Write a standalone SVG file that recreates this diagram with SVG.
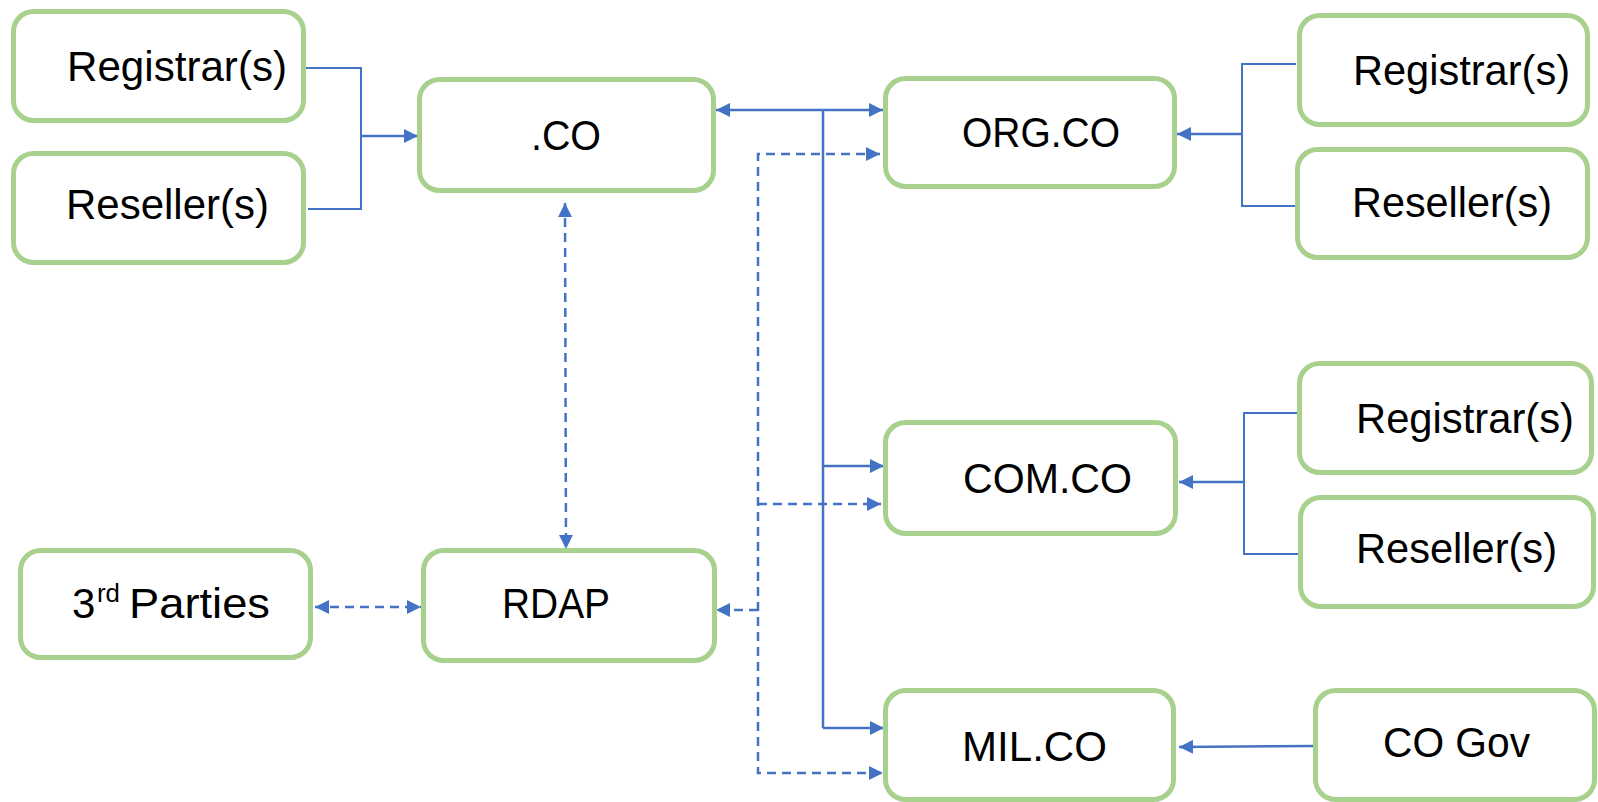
<svg xmlns="http://www.w3.org/2000/svg" width="1598" height="802" viewBox="0 0 1598 802">
  <style>
    .box { fill: #ffffff; stroke: #A9D18E; stroke-width: 5; }
    .lbl { font-family: "Liberation Sans", Arial, sans-serif; font-size: 42px; fill: #000000; }
    .sup { font-size: 26px; }
    .solid { fill: none; stroke: #4472C4; stroke-width: 2.5; }
    .thin { fill: none; stroke: #4472C4; stroke-width: 2; }
    .dash { fill: none; stroke: #4472C4; stroke-width: 2.5; stroke-dasharray: 9 6; }
  </style>
  <defs>
    <marker id="arrow" viewBox="0 0 14 14" refX="14" refY="7" markerWidth="14" markerHeight="14" markerUnits="userSpaceOnUse" orient="auto-start-reverse">
      <path d="M0,0 L14,7 L0,14 Z" fill="#4472C4"/>
    </marker>
  </defs>

  <rect width="1598" height="802" fill="#ffffff"/>

  <!-- connectors -->
  <g id="connectors">
    <!-- registrar / reseller feed into .CO -->
    <polyline class="thin" points="306,68 361,68 361,209 308,209"/>
    <line class="solid" x1="361" y1="136" x2="418" y2="136" marker-end="url(#arrow)"/>

    <!-- .CO to ORG.CO and the solid trunk -->
    <line class="solid" x1="716" y1="110" x2="883" y2="110" marker-start="url(#arrow)" marker-end="url(#arrow)"/>
    <line class="solid" x1="823" y1="110" x2="823" y2="728"/>
    <line class="solid" x1="823" y1="466" x2="884" y2="466" marker-end="url(#arrow)"/>
    <line class="solid" x1="823" y1="728" x2="884" y2="728" marker-end="url(#arrow)"/>

    <!-- dashed RDAP trunk -->
    <polyline class="dash" points="880,154 758,154 758,773 883,773" marker-start="url(#arrow)" marker-end="url(#arrow)"/>
    <line class="dash" x1="758" y1="504" x2="881" y2="504" marker-end="url(#arrow)"/>
    <line class="dash" x1="758" y1="610" x2="716" y2="610" marker-end="url(#arrow)"/>

    <!-- .CO <-> RDAP -->
    <line class="dash" x1="565" y1="203" x2="566" y2="549" marker-start="url(#arrow)" marker-end="url(#arrow)"/>
    <!-- 3rd Parties <-> RDAP -->
    <line class="dash" x1="315" y1="607" x2="421" y2="607" marker-start="url(#arrow)" marker-end="url(#arrow)"/>

    <!-- registrar / reseller feed into ORG.CO -->
    <polyline class="thin" points="1296,64 1242,64 1242,206 1296,206"/>
    <line class="solid" x1="1241" y1="134" x2="1177" y2="134" marker-end="url(#arrow)"/>

    <!-- registrar / reseller feed into COM.CO -->
    <polyline class="thin" points="1298,413 1244,413 1244,554 1298,554"/>
    <line class="solid" x1="1243" y1="482" x2="1179" y2="482" marker-end="url(#arrow)"/>

    <!-- CO Gov into MIL.CO -->
    <line class="solid" x1="1314" y1="746" x2="1179" y2="747" marker-end="url(#arrow)"/>
  </g>

  <!-- nodes -->
  <g id="registrar-co">
    <rect class="box" x="13.5" y="11.5" width="290" height="109" rx="20"/>
    <text class="lbl" x="67" y="81" textLength="220" lengthAdjust="spacingAndGlyphs">Registrar(s)</text>
  </g>
  <g id="reseller-co">
    <rect class="box" x="13.5" y="153.5" width="290" height="109" rx="20"/>
    <text class="lbl" x="66" y="219" textLength="203" lengthAdjust="spacingAndGlyphs">Reseller(s)</text>
  </g>
  <g id="dot-co">
    <rect class="box" x="419.5" y="79.5" width="294" height="111" rx="20"/>
    <text class="lbl" x="531" y="150" textLength="70" lengthAdjust="spacingAndGlyphs">.CO</text>
  </g>
  <g id="org-co">
    <rect class="box" x="885.5" y="78.5" width="289" height="108" rx="20"/>
    <text class="lbl" x="962" y="147" textLength="158" lengthAdjust="spacingAndGlyphs">ORG.CO</text>
  </g>
  <g id="registrar-org">
    <rect class="box" x="1299.5" y="15.5" width="288" height="109" rx="20"/>
    <text class="lbl" x="1353" y="85" textLength="217" lengthAdjust="spacingAndGlyphs">Registrar(s)</text>
  </g>
  <g id="reseller-org">
    <rect class="box" x="1297.5" y="149.5" width="290" height="108" rx="20"/>
    <text class="lbl" x="1352" y="217" textLength="200" lengthAdjust="spacingAndGlyphs">Reseller(s)</text>
  </g>
  <g id="com-co">
    <rect class="box" x="885.5" y="422.5" width="290" height="111" rx="20"/>
    <text class="lbl" x="963" y="493" textLength="169" lengthAdjust="spacingAndGlyphs">COM.CO</text>
  </g>
  <g id="registrar-com">
    <rect class="box" x="1299.5" y="363.5" width="292" height="109" rx="20"/>
    <text class="lbl" x="1356" y="433" textLength="218" lengthAdjust="spacingAndGlyphs">Registrar(s)</text>
  </g>
  <g id="reseller-com">
    <rect class="box" x="1300.5" y="497.5" width="293" height="109" rx="20"/>
    <text class="lbl" x="1356" y="563" textLength="201" lengthAdjust="spacingAndGlyphs">Reseller(s)</text>
  </g>
  <g id="third-parties">
    <rect class="box" x="20.5" y="550.5" width="290" height="107" rx="20"/>
    <text class="lbl" x="72" y="618"><tspan>3</tspan><tspan class="sup" x="97" y="602" textLength="23" lengthAdjust="spacingAndGlyphs">rd</tspan><tspan x="129" y="618" textLength="141" lengthAdjust="spacingAndGlyphs">Parties</tspan></text>
  </g>
  <g id="rdap">
    <rect class="box" x="423.5" y="550.5" width="291" height="110" rx="20"/>
    <text class="lbl" x="502" y="618" textLength="108" lengthAdjust="spacingAndGlyphs">RDAP</text>
  </g>
  <g id="mil-co">
    <rect class="box" x="885.5" y="690.5" width="288" height="109" rx="20"/>
    <text class="lbl" x="962" y="761" textLength="145" lengthAdjust="spacingAndGlyphs">MIL.CO</text>
  </g>
  <g id="co-gov">
    <rect class="box" x="1315.5" y="690.5" width="279" height="109" rx="20"/>
    <text class="lbl" x="1383" y="757" textLength="147" lengthAdjust="spacingAndGlyphs">CO Gov</text>
  </g>
</svg>
